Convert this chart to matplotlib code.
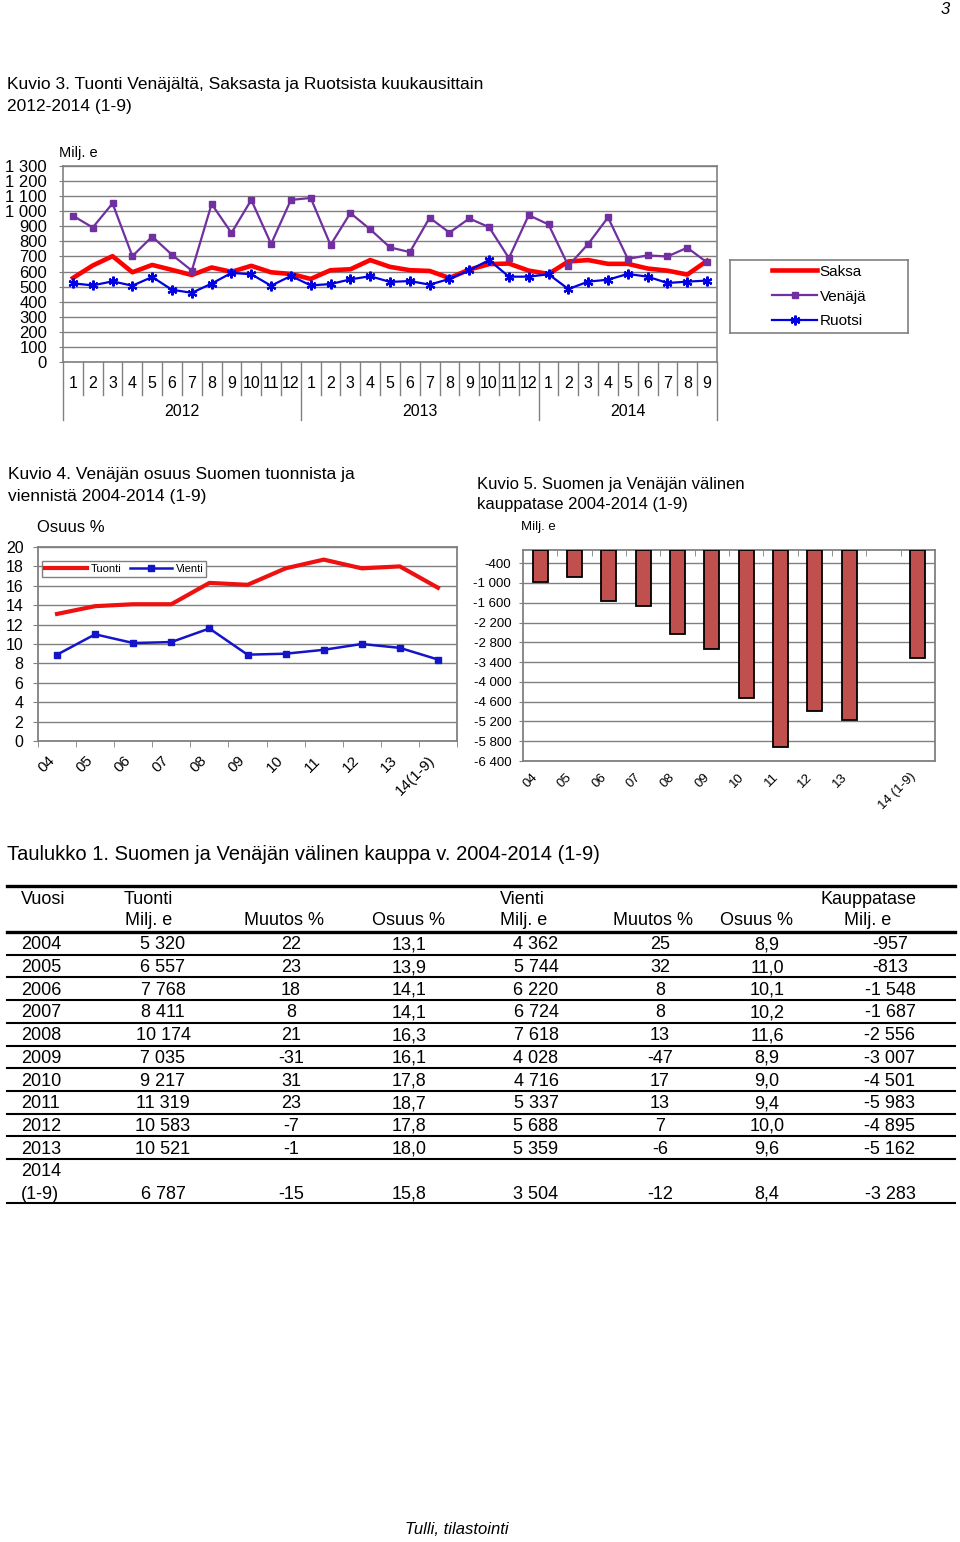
import numpy as np
import matplotlib
matplotlib.use("Agg")
import matplotlib.pyplot as plt

plt.rcParams['font.family'] = ['Liberation Sans', 'DejaVu Sans']

# ---------------- data ----------------
months = [str(m) for m in range(1, 13)] * 2 + [str(m) for m in range(1, 10)]
years = ["2012", "2013", "2014"]
saksa = [557, 640, 702, 595, 644, 611, 577, 627, 598, 638, 595, 584,
         551, 609, 615, 676, 631, 609, 604, 557, 613, 649, 653, 606,
         584, 667, 676, 651, 651, 620, 606, 580, 671]
venaja = [970, 892, 1052, 702, 832, 711, 606, 1048, 856, 1075, 783, 1075,
          1088, 776, 988, 880, 760, 729, 957, 858, 952, 894, 689, 974,
          912, 638, 783, 959, 684, 707, 700, 758, 660]
ruotsi = [522, 508, 535, 506, 564, 479, 459, 520, 591, 582, 506, 571,
          508, 517, 548, 569, 531, 537, 513, 551, 609, 676, 566, 566,
          582, 484, 533, 546, 584, 566, 524, 533, 540]

k4_cats = ["04", "05", "06", "07", "08", "09", "10", "11", "12", "13", "14(1-9)"]
k4_tuonti = [13.1, 13.9, 14.1, 14.1, 16.3, 16.1, 17.8, 18.7, 17.8, 18.0, 15.8]
k4_vienti = [8.9, 11.0, 10.1, 10.2, 11.6, 8.9, 9.0, 9.4, 10.0, 9.6, 8.4]

k5_cats = ["04", "05", "06", "07", "08", "09", "10", "11", "12", "13", "", "14 (1-9)"]
k5_vals = [-957, -813, -1548, -1687, -2556, -3007, -4501, -5983, -4895, -5162, None, -3283]

t_years = ["2004", "2005", "2006", "2007", "2008", "2009", "2010", "2011", "2012", "2013", "2014"]
t_tuonti = [5320, 6557, 7768, 8411, 10174, 7035, 9217, 11319, 10583, 10521, 6787]
t_tuonti_muutos = [22, 23, 18, 8, 21, -31, 31, 23, -7, -1, -15]
t_tuonti_osuus = [13.1, 13.9, 14.1, 14.1, 16.3, 16.1, 17.8, 18.7, 17.8, 18.0, 15.8]
t_vienti = [4362, 5744, 6220, 6724, 7618, 4028, 4716, 5337, 5688, 5359, 3504]
t_vienti_muutos = [25, 32, 8, 8, 13, -47, 17, 13, 7, -6, -12]
t_vienti_osuus = [8.9, 11.0, 10.1, 10.2, 11.6, 8.9, 9.0, 9.4, 10.0, 9.6, 8.4]
t_tase = [-957, -813, -1548, -1687, -2556, -3007, -4501, -5983, -4895, -5162, -3283]

# ---------------- helpers ----------------
W, H = 960, 1542
fig = plt.figure(figsize=(W / 100, H / 100), dpi=100)
GRAY = '#808080'


def ax_px(l, t, r, b):
    return fig.add_axes([l / W, 1 - b / H, (r - l) / W, (b - t) / H])


def ftext(x, y, s, **kw):
    kw.setdefault('va', 'center')
    fig.text(x / W, 1 - y / H, s, **kw)


def fmt_int(v):
    return f"{v:,}".replace(",", " ")


def fmt_dec(v):
    return f"{v:.1f}".replace(".", ",")


# ---------------- page number ----------------
ftext(945, 9, "3", fontsize=12, style='italic', ha='center')

# ---------------- Kuvio 3 ----------------
ftext(7, 85, "Kuvio 3. Tuonti Venäjältä, Saksasta ja Ruotsista kuukausittain", fontsize=12.5)
ftext(7, 106, "2012-2014 (1-9)", fontsize=12.5)
ftext(59, 153, "Milj. e", fontsize=10.5)

ax1 = ax_px(63, 166, 717, 362)
x = np.arange(len(months))
l_s, = ax1.plot(x, saksa, color='#FF0000', lw=3.3, label='Saksa', zorder=3)
l_v, = ax1.plot(x, venaja, color='#7030A0', lw=1.6, marker='s', ms=4.2, label='Venäjä', zorder=4)
l_r, = ax1.plot(x, ruotsi, color='#0000E0', lw=1.6, marker=(6, 2, 0), ms=7, mew=1.6,
                label='Ruotsi', zorder=5)
ax1.set_xlim(-0.5, len(months) - 0.5)
ax1.set_ylim(0, 1300)
yt = np.arange(0, 1301, 100)
ax1.set_yticks(yt)
ax1.set_yticklabels([fmt_int(v) for v in yt], fontsize=12)
ax1.tick_params(axis='y', length=3, pad=8.5, color=GRAY)
ax1.set_xticks(x)
ax1.set_xticklabels(months, fontsize=11.5)
ax1.tick_params(axis='x', length=0, pad=10)
ax1.grid(axis='y', color=GRAY, lw=1.0)
ax1.set_axisbelow(True)
for sp in ax1.spines.values():
    sp.set_color(GRAY)
    sp.set_linewidth(1.2)
tr = ax1.get_xaxis_transform()
hpx = 196.0
bounds = np.arange(-0.5, len(months), 1.0)
year_bounds = [-0.5, 11.5, 23.5, len(months) - 0.5]
for b in bounds:
    depth = 58 if b in year_bounds else 33
    ax1.plot([b, b], [0, -depth / hpx], transform=tr, color=GRAY, lw=1.0, clip_on=False)
for yr, xc in zip(years, [5.5, 17.5, 28.0]):
    ax1.text(xc, -(411 - 362) / hpx, yr, transform=tr, ha='center', va='center', fontsize=11.5)

lax = ax_px(730, 260, 908, 333)
lax.set_xticks([])
lax.set_yticks([])
for sp in lax.spines.values():
    sp.set_color(GRAY)
    sp.set_linewidth(1.2)
lax.legend(handles=[l_s, l_v, l_r], loc='center', frameon=False, fontsize=11,
           handlelength=3.0, handletextpad=0.15, labelspacing=0.7)

# ---------------- Kuvio 4 ----------------
ftext(8, 475, "Kuvio 4. Venäjän osuus Suomen tuonnista ja", fontsize=12.5)
ftext(8, 496, "viennistä 2004-2014 (1-9)", fontsize=12.5)
ftext(37, 527, "Osuus %", fontsize=12)

ax4 = ax_px(38, 547, 457, 741)
x4 = np.arange(len(k4_cats))
h_t, = ax4.plot(x4, k4_tuonti, color='#EE1111', lw=3.0, label='Tuonti', zorder=3)
h_v, = ax4.plot(x4, k4_vienti, color='#1414C8', lw=1.8, marker='s', ms=4.5, label='Vienti', zorder=4)
ax4.set_xlim(-0.5, len(k4_cats) - 0.5)
ax4.set_ylim(0, 20)
ax4.set_yticks(np.arange(0, 21, 2))
ax4.set_yticklabels([str(v) for v in range(0, 21, 2)], fontsize=11.5)
ax4.tick_params(axis='y', length=3.5, pad=7, color=GRAY)
ax4.set_xticks(x4)
ax4.set_xticklabels(k4_cats, fontsize=11, rotation=45, ha='right')
ax4.tick_params(axis='x', which='major', length=0, pad=9)
ax4.set_xticks(np.arange(-0.5, len(k4_cats), 1.0), minor=True)
ax4.tick_params(axis='x', which='minor', length=4, color=GRAY)
ax4.grid(axis='y', color=GRAY, lw=1.0)
ax4.set_axisbelow(True)
for sp in ax4.spines.values():
    sp.set_color(GRAY)
    sp.set_linewidth(1.3)
leg4 = ax4.legend(handles=[h_t, h_v], ncol=2, loc='upper left',
                  bbox_to_anchor=(42 / W, 1 - 561 / H), bbox_transform=fig.transFigure,
                  fontsize=8, handlelength=3.8, handletextpad=0.3, columnspacing=0.8,
                  borderpad=0.25, borderaxespad=0, fancybox=False, framealpha=1)
leg4.get_frame().set_edgecolor(GRAY)
leg4.get_frame().set_linewidth(1.0)

# ---------------- Kuvio 5 ----------------
ftext(477, 484, "Kuvio 5. Suomen ja Venäjän välinen", fontsize=12)
ftext(477, 504, "kauppatase 2004-2014 (1-9)", fontsize=12)
ftext(521, 527, "Milj. e", fontsize=9.5)

ax5 = ax_px(523, 550, 935, 761)
x5 = np.arange(len(k5_cats))
bx = [xi for xi, v in zip(x5, k5_vals) if v is not None]
bv = [v for v in k5_vals if v is not None]
ax5.bar(bx, bv, width=0.44, color='#C0504D', edgecolor='black', linewidth=1.3, zorder=3)
ax5.set_xlim(-0.5, len(k5_cats) - 0.5)
ax5.set_ylim(-6400, 0)
yt5 = np.arange(-6400, -399, 600)
ax5.set_yticks(yt5)
ax5.set_yticklabels([fmt_int(v) for v in yt5], fontsize=9.5)
ax5.tick_params(axis='y', length=3, pad=5.5, color=GRAY)
ax5.set_xticks(x5)
ax5.set_xticklabels(k5_cats, fontsize=9.5, rotation=45, ha='right')
ax5.tick_params(axis='x', which='major', length=0, pad=7)
ax5.set_xticks(np.arange(0.5, len(k5_cats) - 1, 1.0), minor=True)
ax5.tick_params(axis='x', which='minor', bottom=False, top=True, direction='in',
                length=4, color=GRAY)
ax5.grid(axis='y', color=GRAY, lw=1.0)
ax5.set_axisbelow(True)
for sp in ax5.spines.values():
    sp.set_color(GRAY)
    sp.set_linewidth(1.3)

# ---------------- Taulukko 1 ----------------
ftext(7, 854, "Taulukko 1. Suomen ja Venäjän välinen kauppa v. 2004-2014 (1-9)", fontsize=14.5)

tax = ax_px(0, 840, 960, 1215)
tax.set_xlim(0, 960)
tax.set_ylim(1215, 840)
tax.axis('off')

FS = 13
x0, x1 = 7, 955
tax.plot([x0, x1], [886, 886], color='black', lw=2.4)
tax.plot([x0, x1], [932, 932], color='black', lw=2.4)

h1, h2 = 899, 920
tax.text(21, h1, "Vuosi", fontsize=FS, va='center', ha='left')
tax.text(124, h1, "Tuonti", fontsize=FS, va='center', ha='left')
tax.text(125, h2, "Milj. e", fontsize=FS, va='center', ha='left')
tax.text(284, h2, "Muutos %", fontsize=FS, va='center', ha='center')
tax.text(409, h2, "Osuus %", fontsize=FS, va='center', ha='center')
tax.text(500, h1, "Vienti", fontsize=FS, va='center', ha='left')
tax.text(500, h2, "Milj. e", fontsize=FS, va='center', ha='left')
tax.text(653, h2, "Muutos %", fontsize=FS, va='center', ha='center')
tax.text(756, h2, "Osuus %", fontsize=FS, va='center', ha='center')
tax.text(868, h1, "Kauppatase", fontsize=FS, va='center', ha='center')
tax.text(868, h2, "Milj. e", fontsize=FS, va='center', ha='center')

step = 22.7
top = 932
cols = [163, 291, 409, 536, 660, 767, 890]
n = len(t_years)
for i in range(n):
    last = (i == n - 1)
    if last:
        ytop = top + i * step
        tax.text(21, ytop + 12.5, "2014", fontsize=FS, va='center', ha='left')
        yv = ytop + 2 * step - 10
        tax.text(21, yv, "(1-9)", fontsize=FS, va='center', ha='left')
        yline = ytop + 2 * step - 1
    else:
        yv = top + i * step + step / 2 + 1.5
        tax.text(21, yv, t_years[i], fontsize=FS, va='center', ha='left')
        yline = top + (i + 1) * step
    vals = [fmt_int(t_tuonti[i]), str(t_tuonti_muutos[i]), fmt_dec(t_tuonti_osuus[i]),
            fmt_int(t_vienti[i]), str(t_vienti_muutos[i]), fmt_dec(t_vienti_osuus[i]),
            fmt_int(t_tase[i])]
    for cx, s in zip(cols, vals):
        tax.text(cx, yv, s, fontsize=FS, va='center', ha='center')
    tax.plot([x0, x1], [yline, yline], color='black', lw=1.5)

# ---------------- source ----------------
ftext(457, 1529, "Tulli, tilastointi", fontsize=12, style='italic', ha='center')

fig.savefig("out.png", dpi=100)
